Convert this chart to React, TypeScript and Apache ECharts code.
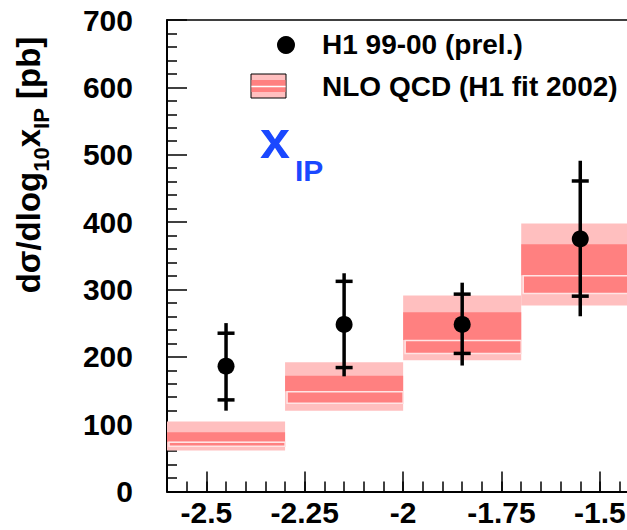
import React, { useEffect, useRef } from "react";
import * as echarts from "echarts";

// ---- data ----
const binEdges = [-2.6, -2.3, -2.0, -1.7, -1.4];
const xCenters = [-2.45, -2.15, -1.85, -1.55];
const h1Values = [186, 248, 248, 375];
const statHigh = [235, 312, 293, 461];
const statLow = [136, 184, 205, 290];
const totHigh = [250, 324, 310, 491];
const totLow = [120, 171, 187, 260];
const nloLow = [61, 120, 195, 276];
const nloInnerLow = [67, 131, 205, 294];
const nloCentral = [74, 149, 225, 321];
const nloInnerHigh = [88, 172, 266, 367];
const nloHigh = [104, 192, 291, 398];
const xTickValues = [-2.5, -2.25, -2, -1.75, -1.5];
const xTickLabels = ["-2.5", "-2.25", "-2", "-1.75", "-1.5"];
const legendLabels = ["H1 99-00 (prel.)", "NLO QCD (H1 fit 2002)"];

const FONT = "'Liberation Sans', Arial, Helvetica, sans-serif";
const LIGHT = "#ffbfbf";
const DARK = "#ff8080";
const PALE = "#ffe4e4";

export default function App() {
  const ref = useRef<HTMLDivElement>(null);
  useEffect(() => {
    const chart = echarts.init(ref.current!, undefined, { renderer: "svg" });
    const bandData = xCenters.map((_, i) => [
      binEdges[i], binEdges[i + 1], nloLow[i], nloInnerLow[i], nloCentral[i], nloInnerHigh[i], nloHigh[i],
    ]);
    const errData = xCenters.map((x, i) => [x, totLow[i], statLow[i], h1Values[i], statHigh[i], totHigh[i]]);
    const tickLine = { color: "#000", width: 1.5 };
    const option: any = {
      animation: false,
      grid: { left: 167, right: 20.7, top: 20, bottom: 38.5, containLabel: false, show: false },
      xAxis: [
        {
          type: "value", min: -2.6, max: -1.4, interval: 0.05, position: "bottom",
          axisLine: { show: true, onZero: false, lineStyle: { color: "#000", width: 2 } },
          axisTick: { show: true, inside: true, length: 10, lineStyle: tickLine },
          axisLabel: { show: false }, splitLine: { show: false },
        },
        {
          type: "value", min: -2.6, max: -1.4, position: "bottom",
          axisLine: { show: false, onZero: false },
          axisTick: { show: true, inside: true, length: 20, customValues: xTickValues, lineStyle: tickLine },
          axisLabel: {
            show: true, customValues: xTickValues,
            formatter: (v: number) => {
              let best = 0;
              xTickValues.forEach((t, i) => { if (Math.abs(t - v) < Math.abs(xTickValues[best] - v)) best = i; });
              return xTickLabels[best];
            },
            fontSize: 30, fontWeight: "bold", color: "#000", margin: 6, fontFamily: FONT,
          },
          splitLine: { show: false },
        },
        {
          type: "value", min: -2.6, max: -1.4, position: "top",
          axisLine: { show: true, onZero: false, lineStyle: { color: "#000", width: 1.5 } },
          axisTick: { show: false }, axisLabel: { show: false }, splitLine: { show: false },
        },
      ],
      yAxis: {
        type: "value", min: 0, max: 700, interval: 100,
        axisLine: { show: true, onZero: false, lineStyle: { color: "#000", width: 2 } },
        axisTick: { show: true, inside: true, length: 20, lineStyle: tickLine },
        minorTick: { show: true, splitNumber: 5, length: 10, lineStyle: tickLine },
        axisLabel: { fontSize: 30, fontWeight: "bold", color: "#000", margin: 34, fontFamily: FONT },
        splitLine: { show: false },
      },
      series: [
        {
          type: "custom", xAxisIndex: 0, yAxisIndex: 0, z: 1,
          encode: { x: [0, 1], y: [2, 3, 4, 5, 6] },
          data: bandData,
          renderItem: (_p: any, api: any) => {
            const x0 = api.value(0), x1 = api.value(1);
            const lo = api.value(2), dlo = api.value(3), c = api.value(4), dhi = api.value(5), hi = api.value(6);
            const left = api.coord([x0, lo])[0];
            const right = api.coord([x1, lo])[0];
            const yLo = api.coord([x0, lo])[1];
            const yDlo = api.coord([x0, dlo])[1];
            const yC = api.coord([x0, c])[1];
            const yDhi = api.coord([x0, dhi])[1];
            const yHi = api.coord([x0, hi])[1];
            return {
              type: "group",
              children: [
                { type: "rect", shape: { x: left, y: yHi, width: right - left, height: yLo - yHi }, style: { fill: LIGHT } },
                { type: "rect", shape: { x: left, y: yDhi, width: right - left, height: yC - yDhi }, style: { fill: DARK } },
                { type: "rect", shape: { x: left + 2, y: yC + 0.5, width: right - left - 2, height: yDlo - yC - 0.5 }, style: { fill: DARK, stroke: PALE, lineWidth: 1.5 } },
              ],
            };
          },
        },
        {
          type: "custom", xAxisIndex: 0, yAxisIndex: 0, z: 3,
          encode: { x: 0, y: [1, 2, 3, 4, 5] },
          data: errData,
          renderItem: (_p: any, api: any) => {
            const x = api.value(0);
            const pTl = api.coord([x, api.value(1)]);
            const pSl = api.coord([x, api.value(2)]);
            const pSh = api.coord([x, api.value(4)]);
            const pTh = api.coord([x, api.value(5)]);
            const st = { stroke: "#000", lineWidth: 3.5 };
            const hw = 8.5;
            return {
              type: "group",
              children: [
                { type: "line", shape: { x1: pTl[0], y1: pTl[1], x2: pTh[0], y2: pTh[1] }, style: st },
                { type: "line", shape: { x1: pSl[0] - hw, y1: pSl[1], x2: pSl[0] + hw, y2: pSl[1] }, style: st },
                { type: "line", shape: { x1: pSh[0] - hw, y1: pSh[1], x2: pSh[0] + hw, y2: pSh[1] }, style: st },
              ],
            };
          },
        },
        {
          type: "scatter", xAxisIndex: 0, yAxisIndex: 0, z: 5,
          symbol: "circle", symbolSize: 17,
          itemStyle: { color: "#000", opacity: 1 },
          data: xCenters.map((x, i) => [x, h1Values[i]]),
        },
      ],
      graphic: [
        { type: "circle", shape: { cx: 286, cy: 45, r: 9 }, style: { fill: "#000" } },
        { type: "text", x: 322, y: 44, style: { text: legendLabels[0], fontSize: 28, fontWeight: "bold", fontFamily: FONT, fill: "#000", align: "left", verticalAlign: "middle" } },
        { type: "rect", shape: { x: 251, y: 74, width: 35, height: 24 }, style: { fill: LIGHT, stroke: "#000", lineWidth: 1 } },
        { type: "rect", shape: { x: 251.5, y: 80, width: 34, height: 12 }, style: { fill: DARK } },
        { type: "line", shape: { x1: 251.5, y1: 86.5, x2: 285.5, y2: 86.5 }, style: { stroke: "#fff", lineWidth: 1.5 } },
        { type: "text", x: 322, y: 86, style: { text: legendLabels[1], fontSize: 28, fontWeight: "bold", fontFamily: FONT, fill: "#000", align: "left", verticalAlign: "middle" } },
        { type: "text", x: 260, y: 139, style: { text: "x", fontSize: 54, fontWeight: "bold", fontFamily: FONT, fill: "#1a48ff", align: "left", verticalAlign: "middle" } },
        { type: "text", x: 295, y: 170.5, style: { text: "IP", fontSize: 30, fontWeight: "bold", fontFamily: FONT, fill: "#1a48ff", align: "left", verticalAlign: "middle" } },
        {
          type: "text", x: 28.6, y: 165, rotation: Math.PI / 2,
          style: {
            text: "{a|dσ/dlog}{s|10}{a|x}{s|IP}{a| [pb]}",
            align: "center", verticalAlign: "middle", fill: "#000",
            rich: {
              a: { fontSize: 33, fontWeight: "bold", fontFamily: FONT, lineHeight: 48, fill: "#000" },
              s: { fontSize: 22, fontWeight: "bold", fontFamily: FONT, lineHeight: 22, verticalAlign: "bottom", fill: "#000" },
            },
          },
        },
      ],
    };
    chart.setOption(option);
    return () => chart.dispose();
  }, []);
  return (
    <div style={{ position: "fixed", left: 0, top: 0, width: 627, height: 530, overflow: "hidden", background: "#fff" }}>
      <div ref={ref} style={{ width: 660, height: 530 }} />
    </div>
  );
}
